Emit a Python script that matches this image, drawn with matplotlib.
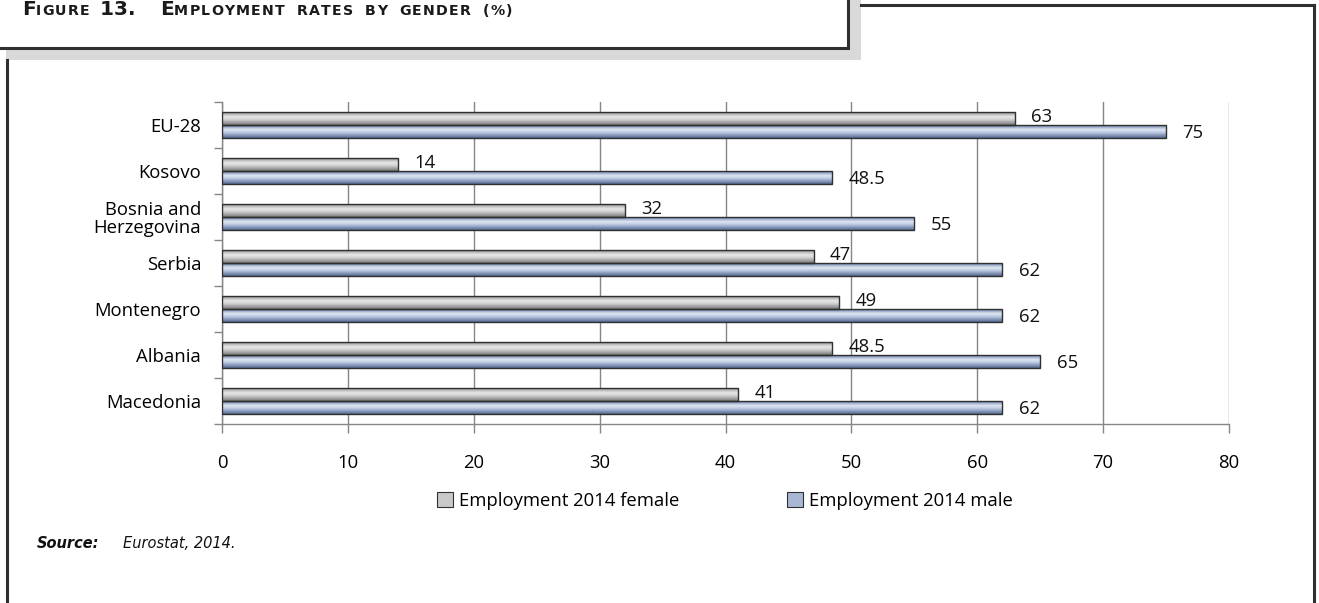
import matplotlib
matplotlib.use('Agg')
import matplotlib.pyplot as plt
import numpy as np
from matplotlib.patches import Rectangle, Patch
from matplotlib.colors import LinearSegmentedColormap
from matplotlib.lines import Line2D

# ================== data ==================
countries = ['EU-28', 'Kosovo', 'Bosnia and\nHerzegovina', 'Serbia',
             'Montenegro', 'Albania', 'Macedonia']
female = [63, 14, 32, 47, 49, 48.5, 41]
male = [75, 48.5, 55, 62, 62, 65, 62]
female_labels = ['63', '14', '32', '47', '49', '48.5', '41']
male_labels = ['75', '48.5', '55', '62', '62', '65', '62']
series_names = ['Employment 2014 female', 'Employment 2014 male']
x_ticks = [0, 10, 20, 30, 40, 50, 60, 70, 80]

W, H = 1319, 603
FONT = 'Open Sans'
FS = 13.3
GRID = '#868686'

gray_cm = LinearSegmentedColormap.from_list(
    'g', ['#6e6e6e', '#b4b4b4', '#e6e6e6', '#d4d4d4', '#a6a6a6', '#7a7a7a'])
blue_cm = LinearSegmentedColormap.from_list(
    'b', ['#4f6187', '#98a9c9', '#dfe6f2', '#bccae2', '#8899bb', '#55688f'])

fig = plt.figure(figsize=(W / 100, H / 100), dpi=100)
fig.patch.set_facecolor('white')


def fx(px):
    return px / W


def fy(py):
    return 1 - py / H


# ================== frame & title box ==================
fig.add_artist(Rectangle((fx(6), fy(60)), fx(861) - fx(6), fy(-10) - fy(60),
                         transform=fig.transFigure, facecolor='#d9d9d9',
                         edgecolor='none', zorder=1))
fig.add_artist(Rectangle((fx(-10), fy(48)), fx(848) - fx(-10), fy(-10) - fy(48),
                         transform=fig.transFigure, facecolor='white',
                         edgecolor='#2f2f2f', lw=2.2, zorder=2))
for xs, ys in [([861, 1314], [5, 5]), ([1314, 1314], [5, 610]),
               ([7, 7], [60, 610])]:
    fig.add_artist(Line2D([fx(v) for v in xs], [fy(v) for v in ys],
                          transform=fig.transFigure, color='#2f2f2f', lw=2.2,
                          zorder=2))

# small caps title, laid out letter by letter
renderer = fig.canvas.get_renderer()
title_runs = [('F', 'IGURE'), ('13.', ''), ('E', 'MPLOYMENT'), ('', 'RATES'),
              ('', 'BY'), ('', 'GENDER'), ('', '(%)')]
gaps = [9, 24, 11, 11, 11, 11, 0]
base_y = fy(15)
x = 22
for (big, small), gap in zip(title_runs, gaps):
    for txt, size in [(big, 14.5), (small, 10.2)]:
        for ch in txt:
            t = fig.text(fx(x), base_y, ch, fontsize=size, fontweight='bold',
                         family='DejaVu Sans', color='#1a1a1a',
                         va='baseline', ha='left', zorder=3)
            bb = t.get_window_extent(renderer=renderer)
            x += bb.width + (1.2 if size < 12 else 0.3)
    x += gap

# ================== chart ==================
ax = fig.add_axes([fx(222), fy(424), fx(1229) - fx(222), fy(102) - fy(424)])
ax.set_facecolor('none')
n = len(countries)
ypos = np.arange(n)[::-1]
bh = 0.29

grad = np.linspace(0, 1, 64).reshape(-1, 1)
for vals, cm, off in [(female, gray_cm, bh / 2), (male, blue_cm, -bh / 2)]:
    for y, v in zip(ypos, vals):
        yc = y + off
        rect = Rectangle((0, yc - bh / 2), v, bh, facecolor='none',
                         edgecolor='#303030', lw=1.0, zorder=4)
        ax.add_patch(rect)
        im = ax.imshow(grad, cmap=cm, aspect='auto', origin='upper',
                       extent=[0, v, yc - bh / 2, yc + bh / 2], zorder=3)
        im.set_clip_path(rect)

for y, f, m, fl, ml in zip(ypos, female, male, female_labels, male_labels):
    ax.text(f + 1.3, y + bh / 2 + 0.03, fl, fontsize=FS, family=FONT,
            va='center', ha='left', color='#111111')
    ax.text(m + 1.3, y - bh / 2 - 0.03, ml, fontsize=FS, family=FONT,
            va='center', ha='left', color='#111111')

ax.set_xlim(0, 80)
ax.set_ylim(-0.5, n - 0.5)
ax.set_xticks(x_ticks)
ax.set_xticklabels([str(v) for v in x_ticks], fontsize=FS, family=FONT)
ax.set_yticks(ypos)
ax.set_yticklabels(countries, fontsize=FS, family=FONT, linespacing=1.0)
ax.set_yticks(np.arange(n + 1) - 0.5, minor=True)
ax.tick_params(axis='y', which='major', length=0, pad=15)
ax.tick_params(axis='y', which='minor', length=6, width=1, color=GRID,
               direction='out')
ax.tick_params(axis='x', length=6.5, width=1, color=GRID, direction='out',
               pad=15)
ax.grid(axis='x', color=GRID, lw=1, zorder=0)
ax.set_axisbelow(True)
for s in ['top', 'right']:
    ax.spines[s].set_visible(False)
for s in ['left', 'bottom']:
    ax.spines[s].set_color(GRID)
    ax.spines[s].set_linewidth(1)

handles = [Patch(facecolor='#c8c8c8', edgecolor='#303030', lw=0.8),
           Patch(facecolor='#a8b7d3', edgecolor='#303030', lw=0.8)]
fig.legend(handles, series_names, loc='center', bbox_to_anchor=(fx(725), fy(501)),
           ncol=2, frameon=False, prop={'family': FONT, 'size': FS},
           handlelength=0.85, handleheight=0.85, handletextpad=0.35,
           columnspacing=5.8)

fig.text(fx(37), fy(543), 'Source:', fontsize=10.5, fontweight='bold',
         style='italic', family='DejaVu Sans', va='center', color='#111111')
fig.text(fx(123), fy(543), 'Eurostat, 2014.', fontsize=10.5, style='italic',
         family='DejaVu Sans', va='center', color='#111111')

fig.savefig('out.png', dpi=100)
